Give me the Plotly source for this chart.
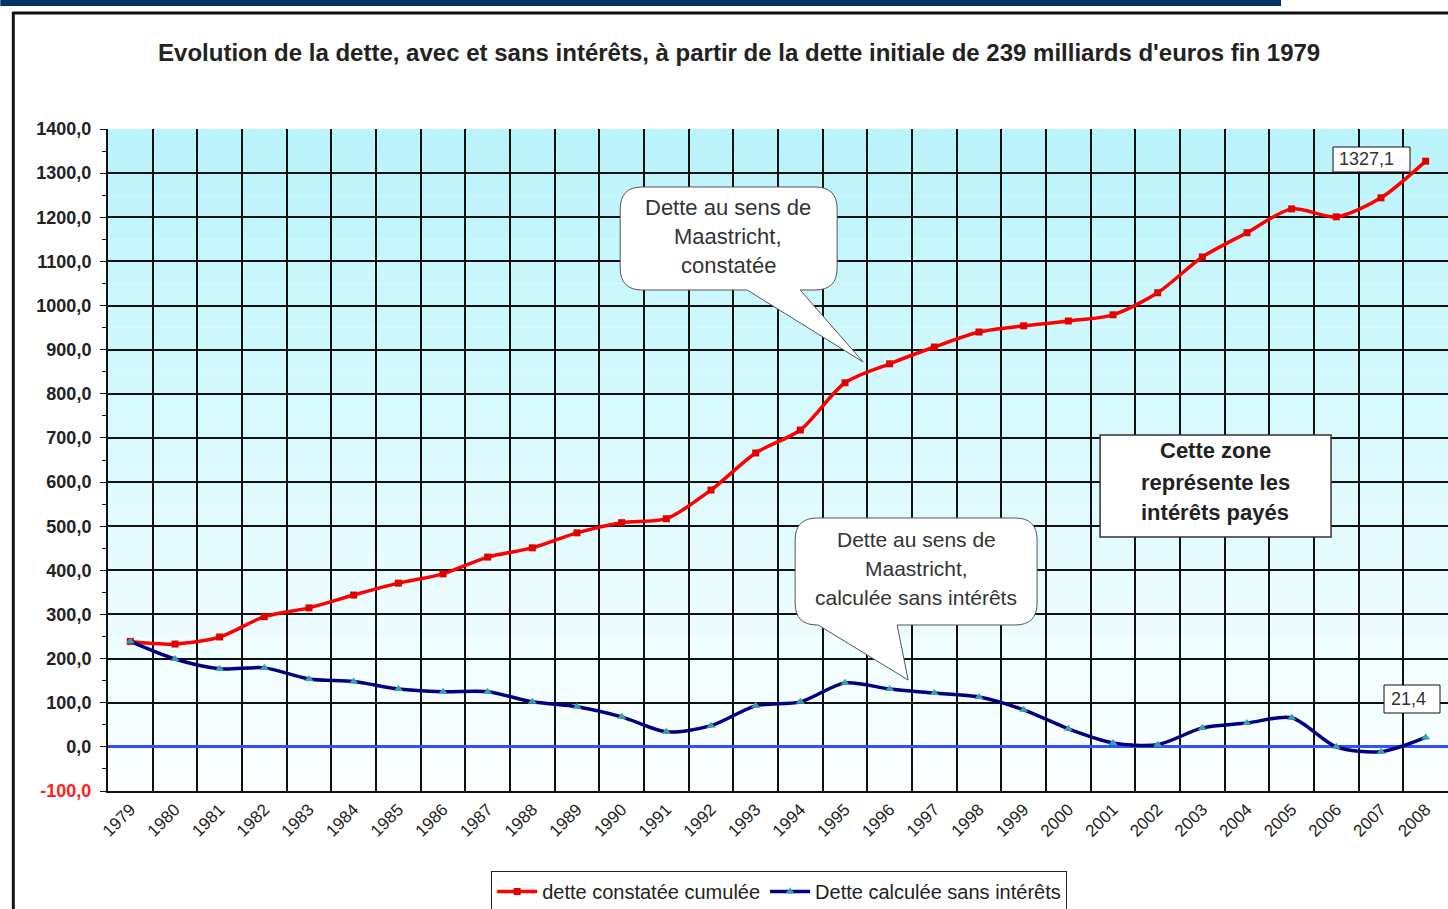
import plotly.graph_objects as go

years = list(range(1979, 2009))
dette_constatee = [239, 233, 249, 295, 315, 344, 371, 392, 430, 451,
                   485, 508, 517, 582, 666, 718, 825, 868, 906, 940,
                   954, 965, 979, 1029, 1110, 1165, 1219, 1201, 1244, 1327.1]
dette_sans_interets = [239, 199, 177, 179, 154, 148, 131, 125, 125, 102,
                       91, 68, 34, 48, 93, 102, 145, 131, 122, 113,
                       84, 41, 9, 5, 43, 54, 66, 0, -11, 21.4]
y_ticks = list(range(-100, 1401, 100))
y_ticktext = [('<span style="color:#ff2020">%d,0</span>' % v) if v < 0 else ('%d,0' % v) for v in y_ticks]

FONT = "Arial, Liberation Sans, sans-serif"

# pixel -> paper helpers (plot area: x 107.7..1448, y 129..791)
L, R, T, B = 107.7, 1448.0, 129.0, 791.0
def px(x):
    return (x - L) / (R - L)
def py(y):
    return (B - y) / (B - T)

fig = go.Figure()
fig.add_trace(go.Scatter(
    x=years, y=dette_constatee, name="dette constatée cumulée",
    mode="lines+markers", line=dict(color="#ff0000", width=3.5, shape="spline", smoothing=0.8),
    marker=dict(symbol="square", size=7, color="#e00000")))
fig.add_trace(go.Scatter(
    x=years, y=dette_sans_interets, name="Dette calculée sans intérêts",
    mode="lines+markers", line=dict(color="#000080", width=3.5, shape="spline", smoothing=0.8),
    marker=dict(symbol="triangle-up", size=8, color="#3a9fa8")))

shapes = []
# background gradient
n = 30
c0 = (186, 244, 250)
c1 = (252, 255, 255)
for i in range(n):
    f = i / (n - 1)
    col = tuple(int(round(c0[k] + (c1[k] - c0[k]) * f)) for k in range(3))
    shapes.append(dict(type="rect", xref="paper", yref="paper", layer="below",
                       x0=0, x1=1, y1=1 - i / n, y0=1 - (i + 1) / n,
                       fillcolor="rgb(%d,%d,%d)" % col, line=dict(width=0)))

# outer decorations
shapes.append(dict(type="rect", xref="paper", yref="paper", x0=px(0), x1=px(1281), y0=py(0), y1=py(6),
                   fillcolor="#003366", line=dict(width=0)))
shapes.append(dict(type="line", xref="paper", yref="paper", x0=px(13), x1=px(13), y0=py(12), y1=py(909),
                   line=dict(color="#111", width=3)))
shapes.append(dict(type="line", xref="paper", yref="paper", x0=px(12), x1=px(1448), y0=py(13), y1=py(13),
                   line=dict(color="#111", width=3)))

def bubble(Lb, Tb, Rb, Bb, r, wl, wr, tx, ty):
    def P(x, y):
        return "%.5f,%.5f" % (px(x), py(y))
    d = "M " + P(Lb + r, Tb)
    d += " L " + P(Rb - r, Tb)
    d += " Q " + P(Rb, Tb) + " " + P(Rb, Tb + r)
    d += " L " + P(Rb, Bb - r)
    d += " Q " + P(Rb, Bb) + " " + P(Rb - r, Bb)
    d += " L " + P(wr, Bb)
    d += " L " + P(tx, ty)
    d += " L " + P(wl, Bb)
    d += " L " + P(Lb + r, Bb)
    d += " Q " + P(Lb, Bb) + " " + P(Lb, Bb - r)
    d += " L " + P(Lb, Tb + r)
    d += " Q " + P(Lb, Tb) + " " + P(Lb + r, Tb)
    d += " Z"
    return dict(type="path", xref="paper", yref="paper", path=d,
                fillcolor="white", line=dict(color="#555", width=1))

shapes.append(bubble(620, 187, 837, 290, 22, 747, 800, 863, 362))
shapes.append(bubble(795, 518, 1037, 625, 22, 818, 897, 908, 680))
shapes.append(dict(type="rect", xref="paper", yref="paper", x0=px(1100), x1=px(1331), y0=py(537), y1=py(435),
                   fillcolor="white", line=dict(color="#333", width=1.5)))
shapes.append(dict(type="rect", xref="paper", yref="paper", x0=px(1333), x1=px(1410), y0=py(172), y1=py(147),
                   fillcolor="white", line=dict(color="#111", width=1)))
shapes.append(dict(type="rect", xref="paper", yref="paper", x0=px(1384), x1=px(1440), y0=py(713), y1=py(685),
                   fillcolor="white", line=dict(color="#111", width=1)))

annotations = []
def txt(x, y, s, size=19, bold=False, color="#333", anchor="center"):
    annotations.append(dict(xref="paper", yref="paper", x=px(x), y=py(y), text=("<b>%s</b>" % s) if bold else s,
                            showarrow=False, xanchor=anchor, yanchor="middle",
                            font=dict(family=FONT, size=size, color=color)))

for s, y in zip(["Dette au sens de", "Maastricht,", "constatée"], [207, 236, 265]):
    txt(728, y, s, size=22)
for s, y in zip(["Dette au sens de", "Maastricht,", "calculée sans intérêts"], [539, 568, 597]):
    txt(916, y, s, size=21)
for s, y in zip(["Cette zone", "représente les", "intérêts payés"], [451, 482, 512]):
    txt(1215, y, s, size=22, bold=True, color="#222")
txt(1366, 159, "1327,1", size=18, color="#333")
txt(1408, 699, "21,4", size=18, color="#333")

fig.update_layout(
    width=1448, height=909,
    margin=dict(l=108, r=0, t=129, b=118, autoexpand=False),
    paper_bgcolor="white", plot_bgcolor="white",
    title=dict(text="<b>Evolution de la dette, avec et sans intérêts, à partir de la dette initiale de 239 milliards d'euros fin 1979</b>",
               x=px(739), xref="paper", xanchor="center", y=1 - 53 / 909, yref="container", yanchor="middle",
               font=dict(family=FONT, size=24, color="#222")),
    showlegend=True,
    legend=dict(orientation="h", x=px(779), xanchor="center", y=py(871), yanchor="top",
                bordercolor="#222", borderwidth=1, bgcolor="white",
                font=dict(family=FONT, size=20, color="#222"), itemwidth=40),
    shapes=shapes, annotations=annotations,
)
fig.update_xaxes(
    range=[1978.5, 2008.5], tickmode="array", tickvals=years, ticktext=[str(y) for y in years],
    tickangle=-45, tickfont=dict(family=FONT, size=17, color="#222"),
    showgrid=False, showline=True, linecolor="#111", linewidth=2, ticks="",
    minor=dict(tick0=1978.5, dtick=1, showgrid=True, gridcolor="#111", gridwidth=2, ticks=""),
    zeroline=False, fixedrange=True, tickprefix="<b>", ticksuffix="</b>")
fig.update_yaxes(
    range=[-100, 1400], tickmode="array", tickvals=y_ticks, ticktext=["<b>%s</b>" % t for t in y_ticktext],
    tickfont=dict(family=FONT, size=18, color="#222"), ticklabelstandoff=5,
    showgrid=True, gridcolor="#111", gridwidth=2,
    showline=True, linecolor="#111", linewidth=2, ticks="outside", ticklen=6, tickcolor="#111",
    minor=dict(dtick=50, tick0=-100, ticks="outside", ticklen=4, tickcolor="#111", showgrid=False),
    zeroline=True, zerolinecolor="#3050ff", zerolinewidth=3, fixedrange=True)

fig.write_html("out.html", config={"displayModeBar": False},
               post_script="document.body.style.margin='0px';document.body.style.overflow='hidden';")
